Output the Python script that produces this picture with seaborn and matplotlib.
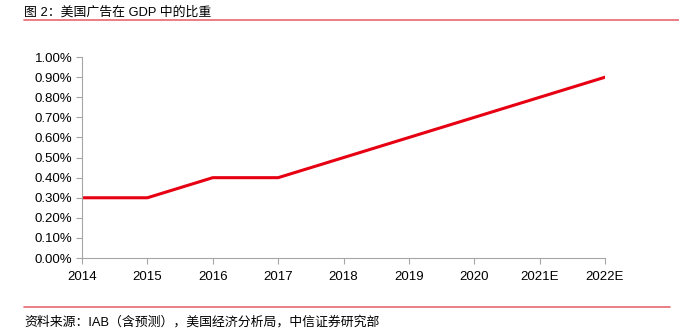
import matplotlib
matplotlib.use("Agg")
import matplotlib.pyplot as plt
import seaborn as sns
import pandas as pd
from matplotlib.ticker import FuncFormatter

years = ["2014", "2015", "2016", "2017", "2018", "2019", "2020", "2021E", "2022E"]
share = [0.30, 0.30, 0.40, 0.40, 0.50, 0.60, 0.70, 0.80, 0.90]
yticks = [0.0, 0.1, 0.2, 0.3, 0.4, 0.5, 0.6, 0.7, 0.8, 0.9, 1.0]

title = "图 2：美国广告在 GDP 中的比重"
source = "资料来源：IAB（含预测），美国经济分析局，中信证券研究部"

sns.set_theme(style="white")
plt.rcParams['font.family'] = ['Liberation Sans', 'Noto Sans CJK SC', 'DejaVu Sans']

df = pd.DataFrame({"year": years, "share": share})
df["pos"] = range(len(years))

fig = plt.figure(figsize=(6.79, 3.36), dpi=100)
ax = fig.add_axes([0.1208, 0.232, 0.7702, 0.598])
sns.lineplot(data=df, x="pos", y="share", color="#E60012", linewidth=2.2, ax=ax)

ax.set_xlim(0, len(years) - 1)
ax.set_ylim(0, 1.0)
ax.set_xticks(range(len(years)))
ax.set_xticklabels(years)
ax.set_yticks(yticks)
ax.yaxis.set_major_formatter(FuncFormatter(lambda v, p: f"{v:.2f}%"))
ax.set_xlabel("")
ax.set_ylabel("")
for s in ["top", "right"]:
    ax.spines[s].set_visible(False)
for s in ["left", "bottom"]:
    ax.spines[s].set_color("#A6A6A6")
    ax.spines[s].set_linewidth(0.8)
ax.tick_params(axis="both", which="major", direction="out", length=4, width=0.8,
               color="#A6A6A6", labelsize=9.5, labelcolor="#000000", pad=3,
               left=True, bottom=True)
ax.tick_params(axis="x", pad=5)
ax.grid(False)

fig.text(24/679, 1 - 12/336, title, fontsize=9.3, va="center", ha="left", color="#000000")
fig.add_artist(plt.Line2D([24/679, 1.0], [1 - 20/336, 1 - 20/336], color="#E8686E", linewidth=1.2, transform=fig.transFigure))
fig.add_artist(plt.Line2D([24/679, 670/679], [1 - 307/336, 1 - 307/336], color="#E8686E", linewidth=1.2, transform=fig.transFigure))
fig.text(24/679, 1 - 322/336, source, fontsize=9.3, va="center", ha="left", color="#000000")

fig.savefig("out.png", dpi=100)
